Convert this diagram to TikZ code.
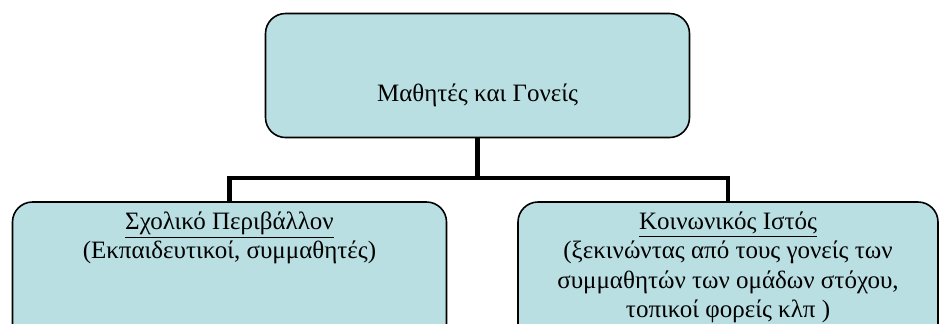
\documentclass[tikz,border=0pt]{standalone}
\usepackage{fontspec}
\setmainfont{Liberation Serif}
\usetikzlibrary{positioning}
\definecolor{boxfill}{HTML}{B9DFE3}
\tikzset{
  box/.style={draw, line width=0.8pt, rounded corners=10pt, fill=boxfill, inner sep=0pt},
  lbl/.style={inner sep=0pt, align=center, font=\fontsize{12.5}{14.7}\selectfont},
  conn/.style={line width=2.2pt}
}
\begin{document}
\begin{tikzpicture}[x=0.5pt,y=-0.5pt]

\useasboundingbox (0,0) rectangle (940,323);
\clip (0,0) rectangle (940,323);

\node[box, minimum width=212pt, minimum height=62pt] (top) at (477.5,75.5) {};
\node[box, minimum width=217pt, minimum height=74pt] (left) at (229.5,276) {};
\node[box, minimum width=210pt, minimum height=74pt] (right) at (728,276) {};

\coordinate (bar) at (0,178);

\draw[conn] (top.south) -- (top.south |- bar);
\draw[conn] (left.north) -- (left.north |- bar) -- (right.north |- bar) -- (right.north);

\node[lbl] (toptxt) at ([yshift=-10pt]top.center) {Μαθητές και Γονείς};
\node[lbl, below=5pt of left.north] (lefttxt) {\underline{Σχολικό Περιβάλλον}\\(Εκπαιδευτικοί, συμμαθητές)};
\node[lbl, below=5pt of right.north] (righttxt) {\underline{Κοινωνικός Ιστός}\\(ξεκινώντας από τους γονείς των\\συμμαθητών των ομάδων στόχου,\\τοπικοί φορείς κλπ )};

\end{tikzpicture}
\end{document}
